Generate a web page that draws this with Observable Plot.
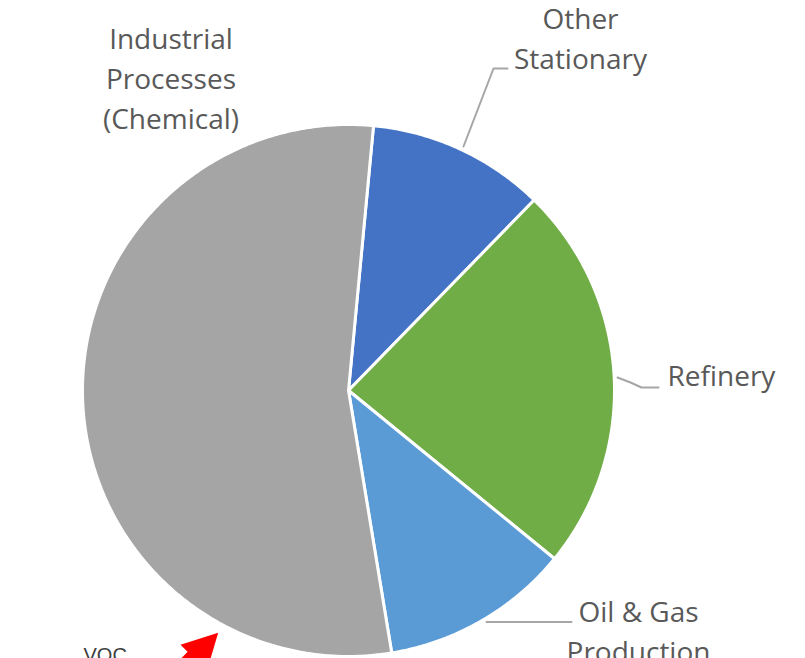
<!DOCTYPE html>
<html>
<head>
<meta charset="utf-8">
<script src="https://cdn.jsdelivr.net/npm/d3@7"></script>
<script src="https://cdn.jsdelivr.net/npm/@observablehq/plot@0.6"></script>
<style>
  html, body { margin: 0; padding: 0; background: #fff; overflow: hidden; }
  #chart svg { display: block; }
</style>
</head>
<body>
<div id="chart"></div>
<script>
// ---- Data (VOC emissions share by source) ----
const categories = ["Other Stationary", "Refinery", "Oil & Gas Production", "Industrial Processes (Chemical)"];
const shares = [10.8, 23.6, 11.5, 54.1];
const labels = ["Other\nStationary", "Refinery", "Oil & Gas\nProduction", "Industrial\nProcesses\n(Chemical)"];
const colors = ["#4472C4", "#70AD47", "#5B9BD5", "#A5A5A5"];
const startAngleDeg = 5.4;
const noteText = "VOC";

// ---- Layout ----
const W = 805, H = 658;
const cx = 348, cy = 390, R = 266;
// pixel -> data (unit circle) helpers for annotation placement
const ux = (px) => (px - cx) / R;
const uy = (py) => (cy - py) / R;

// ---- Build slice polygons ----
const total = d3.sum(shares);
const slicePts = [];
let a = startAngleDeg;
categories.forEach((c, i) => {
  const span = shares[i] / total * 360;
  const a0 = a, a1 = a + span;
  slicePts.push({cat: c, x: 0, y: 0});
  const n = Math.max(2, Math.ceil(span / 0.5));
  for (let k = 0; k <= n; k++) {
    const t = (a0 + (a1 - a0) * k / n) * Math.PI / 180;
    slicePts.push({cat: c, x: Math.sin(t), y: Math.cos(t)});
  }
  a = a1;
});

// ---- Labels (positions: top of text line box, pixels) ----
const centeredLabels = [
  {text: labels[3], px: 170.5, py: 20},
  {text: labels[0], px: 580, py: 0},
  {text: labels[2], px: 638, py: 593}
].map(d => ({...d, x: ux(d.px), y: uy(d.py)}));
const startLabels = [
  {text: labels[1], px: 667, py: 357}
].map(d => ({...d, x: ux(d.px), y: uy(d.py)}));

// ---- Leader lines ----
const leaders = [
  {id: "os", pts: [[463, 146], [493, 68], [507, 68]]},
  {id: "ref", pts: [[617, 377], [630, 382], [641, 387], [658, 387]]},
  {id: "og", pts: [[486, 621.5], [571, 621.5]]}
].flatMap(l => l.pts.map(([px, py]) => ({id: l.id, x: ux(px), y: uy(py)})));

// ---- Red block arrow annotation ----
const arrowTip = [217.7, 632.3];
const arrowDir = [0.70, -0.714]; // tail -> tip, pixel space
const headLen = 35, headHalf = 18.5, shaftHalf = 8.5, arrowLen = 120;
const arrowPoly = (() => {
  const [tx, ty] = arrowTip;
  const m = Math.hypot(arrowDir[0], arrowDir[1]);
  const u = [arrowDir[0] / m, arrowDir[1] / m];
  const n = [-u[1], u[0]];
  const P = (along, perp) => [tx - along * u[0] + perp * n[0], ty - along * u[1] + perp * n[1]];
  return [P(0, 0), P(headLen, headHalf), P(headLen, shaftHalf), P(arrowLen, shaftHalf),
          P(arrowLen, -shaftHalf), P(headLen, -shaftHalf), P(headLen, -headHalf)]
    .map(([px, py]) => ({x: ux(px), y: uy(py)}));
})();

const note = [{text: noteText, x: ux(83), y: uy(661)}];

const textStyle = {
  x: "x", y: "y", text: "text",
  lineAnchor: "top", lineHeight: 40 / 28,
  fontSize: 28, fontFamily: "Open Sans", fill: "#595959"
};

const chart = Plot.plot({
  width: W,
  height: H,
  marginLeft: cx - R,
  marginRight: W - (cx + R),
  marginTop: cy - R,
  marginBottom: H - (cy + R),
  x: {domain: [-1, 1], axis: null},
  y: {domain: [-1, 1], axis: null},
  color: {domain: categories, range: colors},
  style: {background: "#fff", overflow: "hidden"},
  marks: [
    Plot.line(slicePts, {
      x: "x", y: "y", z: "cat", fill: "cat",
      stroke: "#fff", strokeWidth: 3, curve: "linear-closed", strokeLinejoin: "round"
    }),
    Plot.line(leaders, {x: "x", y: "y", z: "id", stroke: "#A6A6A6", strokeWidth: 2, curve: "linear"}),
    Plot.text(centeredLabels, {...textStyle, textAnchor: "middle"}),
    Plot.text(startLabels, {...textStyle, textAnchor: "start"}),
    Plot.line(arrowPoly, {x: "x", y: "y", fill: "#FF0000", stroke: "none", curve: "linear-closed"}),
    Plot.text(note, {
      x: "x", y: "y", text: "text", textAnchor: "start", lineAnchor: "bottom",
      fontSize: 20, fontFamily: "Liberation Sans", fill: "#404040"
    })
  ]
});
document.getElementById("chart").appendChild(chart);
</script>
</body>
</html>
